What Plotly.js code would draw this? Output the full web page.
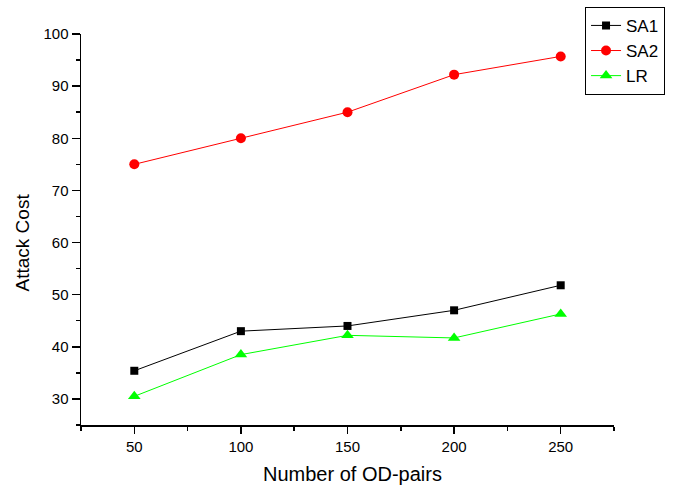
<!DOCTYPE html>
<html>
<head>
<meta charset="utf-8">
<script src="https://cdn.plot.ly/plotly-3.0.1.min.js"></script>
<style>html,body{margin:0;padding:0;background:#fff;}#chart{width:674px;height:491px;}</style>
</head>
<body>
<div id="chart"></div>
<script>
const odPairs = [50, 100, 150, 200, 250];
const sa1 = [35.4, 43.0, 44.0, 47.0, 51.8];
const sa2 = [75.0, 80.0, 85.0, 92.2, 95.7];
const lr  = [30.5, 38.5, 42.2, 41.7, 46.3];
const xTitle = 'Number of OD-pairs';
const yTitle = 'Attack Cost';

const font = "Liberation Sans, Arial, sans-serif";
const traces = [
  {x: odPairs, y: sa1, name: 'SA1', mode: 'lines+markers',
   line: {color: '#000000', width: 1}, marker: {symbol: 'square', size: 8, color: '#000000'}},
  {x: odPairs, y: sa2, name: 'SA2', mode: 'lines+markers',
   line: {color: '#ff0000', width: 1}, marker: {symbol: 'circle', size: 10, color: '#ff0000'}},
  {x: odPairs, y: lr, name: 'LR', mode: 'lines+markers',
   line: {color: '#00ff00', width: 1}, marker: {symbol: 'triangle-up', size: 11, color: '#00ff00'}}
];
const layout = {
  width: 674, height: 491,
  margin: {l: 81, r: 60, t: 34, b: 66, autoexpand: false},
  paper_bgcolor: '#fff', plot_bgcolor: '#fff',
  font: {family: font, size: 15, color: '#000'},
  showlegend: true,
  legend: {xref: 'container', yref: 'container', x: 0.868, y: 0.986, xanchor: 'left', yanchor: 'top',
           bordercolor: '#000', borderwidth: 1, bgcolor: '#fff',
           font: {family: font, size: 17, color: '#000'}, tracegroupgap: 0},
  xaxis: {range: [25, 275], tickvals: [50, 100, 150, 200, 250], ticks: 'outside', ticklen: 7, tickwidth: 1.5,
          tickcolor: '#000', showline: true, linecolor: '#000', linewidth: 1.5, showgrid: false, zeroline: false,
          minor: {tickvals: [25, 75, 125, 175, 225, 275], ticks: 'outside', ticklen: 4, tickwidth: 1.5, tickcolor: '#000', showgrid: false},
          tickfont: {family: font, size: 15}, fixedrange: true,
          title: {text: '', font: {family: font, size: 20}}},
  yaxis: {range: [25, 100], tickvals: [30, 40, 50, 60, 70, 80, 90, 100], ticks: 'outside', ticklen: 8, tickwidth: 1.5,
          tickcolor: '#000', showline: true, linecolor: '#000', linewidth: 1.5, showgrid: false, zeroline: false,
          minor: {tickvals: [25, 35, 45, 55, 65, 75, 85, 95], ticks: 'outside', ticklen: 4, tickwidth: 1.5, tickcolor: '#000', showgrid: false},
          tickfont: {family: font, size: 15}, fixedrange: true,
          title: {text: '', font: {family: font, size: 19}}},
  annotations: [
    {text: xTitle, xref: 'paper', yref: 'paper', x: 0.5103, y: -0.1253, xanchor: 'center', yanchor: 'middle',
     showarrow: false, font: {family: font, size: 20, color: '#000'}},
    {text: yTitle, xref: 'paper', yref: 'paper', x: -0.1107, y: 0.4668, xanchor: 'center', yanchor: 'middle',
     textangle: -90, showarrow: false, font: {family: font, size: 19, color: '#000'}}
  ]
};
Plotly.newPlot('chart', traces, layout, {displayModeBar: false, staticPlot: true});
</script>
</body>
</html>
